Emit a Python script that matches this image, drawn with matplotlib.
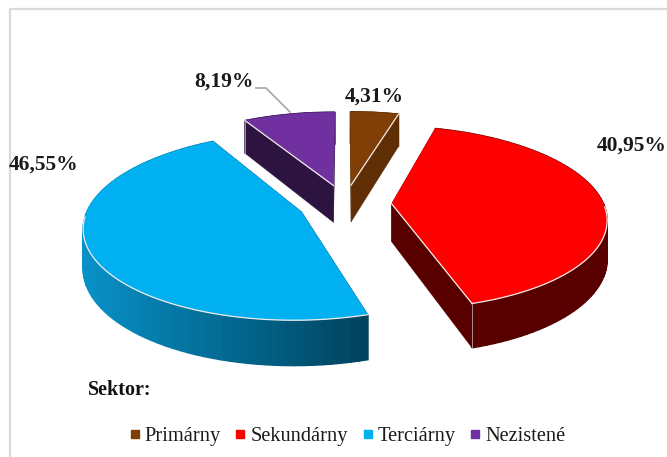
''' Exploded 3D-look pie chart, Sektor '''
import numpy as np
import matplotlib
matplotlib.use('Agg')
import matplotlib.pyplot as plt
from matplotlib.colors import to_rgb
from matplotlib.lines import Line2D

plt.rcParams['font.family'] = ['Liberation Serif', 'DejaVu Serif']

# data
sectors = ['Primárny', 'Sekundárny', 'Terciárny', 'Nezistené']
shares = [4.31, 40.95, 46.55, 8.19]
share_labels = ['4,31%', '40,95%', '46,55%', '8,19%']

# styles
top_colors = ['#7f3f07', '#ff0000', '#00b0f0', '#7030a0']
side_colors = ['#5f2e05', '#580000', '#2c1340', '#2c1340']
rim_left = ['#5f2e05', '#580000', '#0891c8', '#2c1340']
rim_right = ['#5f2e05', '#580000', '#00445f', '#2c1340']
visible_cut = [-1, -1, None, 0]
label_pos = [(374, 97), (632, 146), (44, 165), (224, 82)]

# projection of the pie
cx, cy = 345, 204
rx, ry = 212, 89.5
persp = 0.15
depth = 38
explode = 0.22


def project(u, v, drop=0.0):
    w = 1 + persp * v
    return cx + rx * u / w, cy - ry * v / w + drop * depth / w


fig, ax = plt.subplots(figsize=(6.67, 4.57), dpi=100)
ax.set_position([0, 0, 1, 1])
ax.set_xlim(0, 667)
ax.set_ylim(457, 0)
ax.axis('off')

# chart frame
ax.plot([10, 10, 667], [457, 9, 9], color='#d9d9d9', lw=1.6, zorder=0)

# slices clockwise from the top
edges = np.concatenate([[0], np.cumsum(shares)]) / sum(shares) * 2 * np.pi
slices = []
for i in range(len(shares)):
    a0, a1 = edges[i], edges[i + 1]
    mid = (a0 + a1) / 2
    ox, oy = explode * np.sin(mid), explode * np.cos(mid)
    slices.append((i, a0, a1, ox, oy))

# back slices first
for i, a0, a1, ox, oy in [slices[3], slices[0], slices[2], slices[1]]:
    z = 2 + i
    ang = np.linspace(a0, a1, 80)
    u = ox + np.sin(ang)
    v = oy + np.cos(ang)
    x, y = project(u, v)
    xb, yb = project(u, v, 1)
    ax_x, ax_y = project(ox, oy)
    ax_xb, ax_yb = project(ox, oy, 1)

    # cut faces
    for k in (0, -1):
        ax.fill([ax_x, x[k], xb[k], ax_xb], [ax_y, y[k], yb[k], ax_yb],
                color=side_colors[i], lw=0.3, zorder=z)

    # rim with gradient
    left, right = np.array(to_rgb(rim_left[i])), np.array(to_rgb(rim_right[i]))
    for j in range(len(ang) - 1):
        t = (x[j] - x.min()) / (x.max() - x.min())
        ax.fill([x[j], x[j + 1], xb[j + 1], xb[j]], [y[j], y[j + 1], yb[j + 1], yb[j]],
                color=left + (right - left) * t, lw=1.0, zorder=z)

    # top
    ax.fill(np.r_[ax_x, x], np.r_[ax_y, y], color=top_colors[i], lw=0.3, zorder=z + 0.5)

    # pale edges where the top meets a visible side
    front = np.cos(ang) < -0.02
    if front.any():
        ax.plot(x[front], y[front], color='#f4ecec', lw=0.9, zorder=z + 0.6)
    k = visible_cut[i]
    if k is not None:
        ax.plot([ax_x, x[k]], [ax_y, y[k]], color='#f4ecec', lw=0.9, zorder=z + 0.6)
        ax.plot([x[k], xb[k]], [y[k], yb[k]], color='#c8c8c8', lw=0.5, zorder=z + 0.6)

# leader line for the smallest back label
ax.plot([256, 266, 290], [88, 88, 112], color='#a6a6a6', lw=1.2, zorder=10)

for lab, (lx, ly) in zip(share_labels, label_pos):
    ax.text(lx, ly, lab, ha='center', va='center', fontsize=15.5, fontweight='bold',
            color='#1a1a1a', zorder=11)

ax.text(88, 390, 'Sektor:', ha='left', va='center', fontsize=14.5, fontweight='bold',
        color='#111111')

handles = [Line2D([], [], ls='none', marker='s', ms=5.5, color=c) for c in top_colors]
ax.legend(handles, sectors, loc='center', bbox_to_anchor=(345 / 667, 1 - 436 / 457),
          ncols=4, frameon=False, fontsize=14.7, handletextpad=0.0, columnspacing=0.45,
          handlelength=1.0, labelcolor='#1a1a1a')

fig.savefig('out.png', dpi=100)
